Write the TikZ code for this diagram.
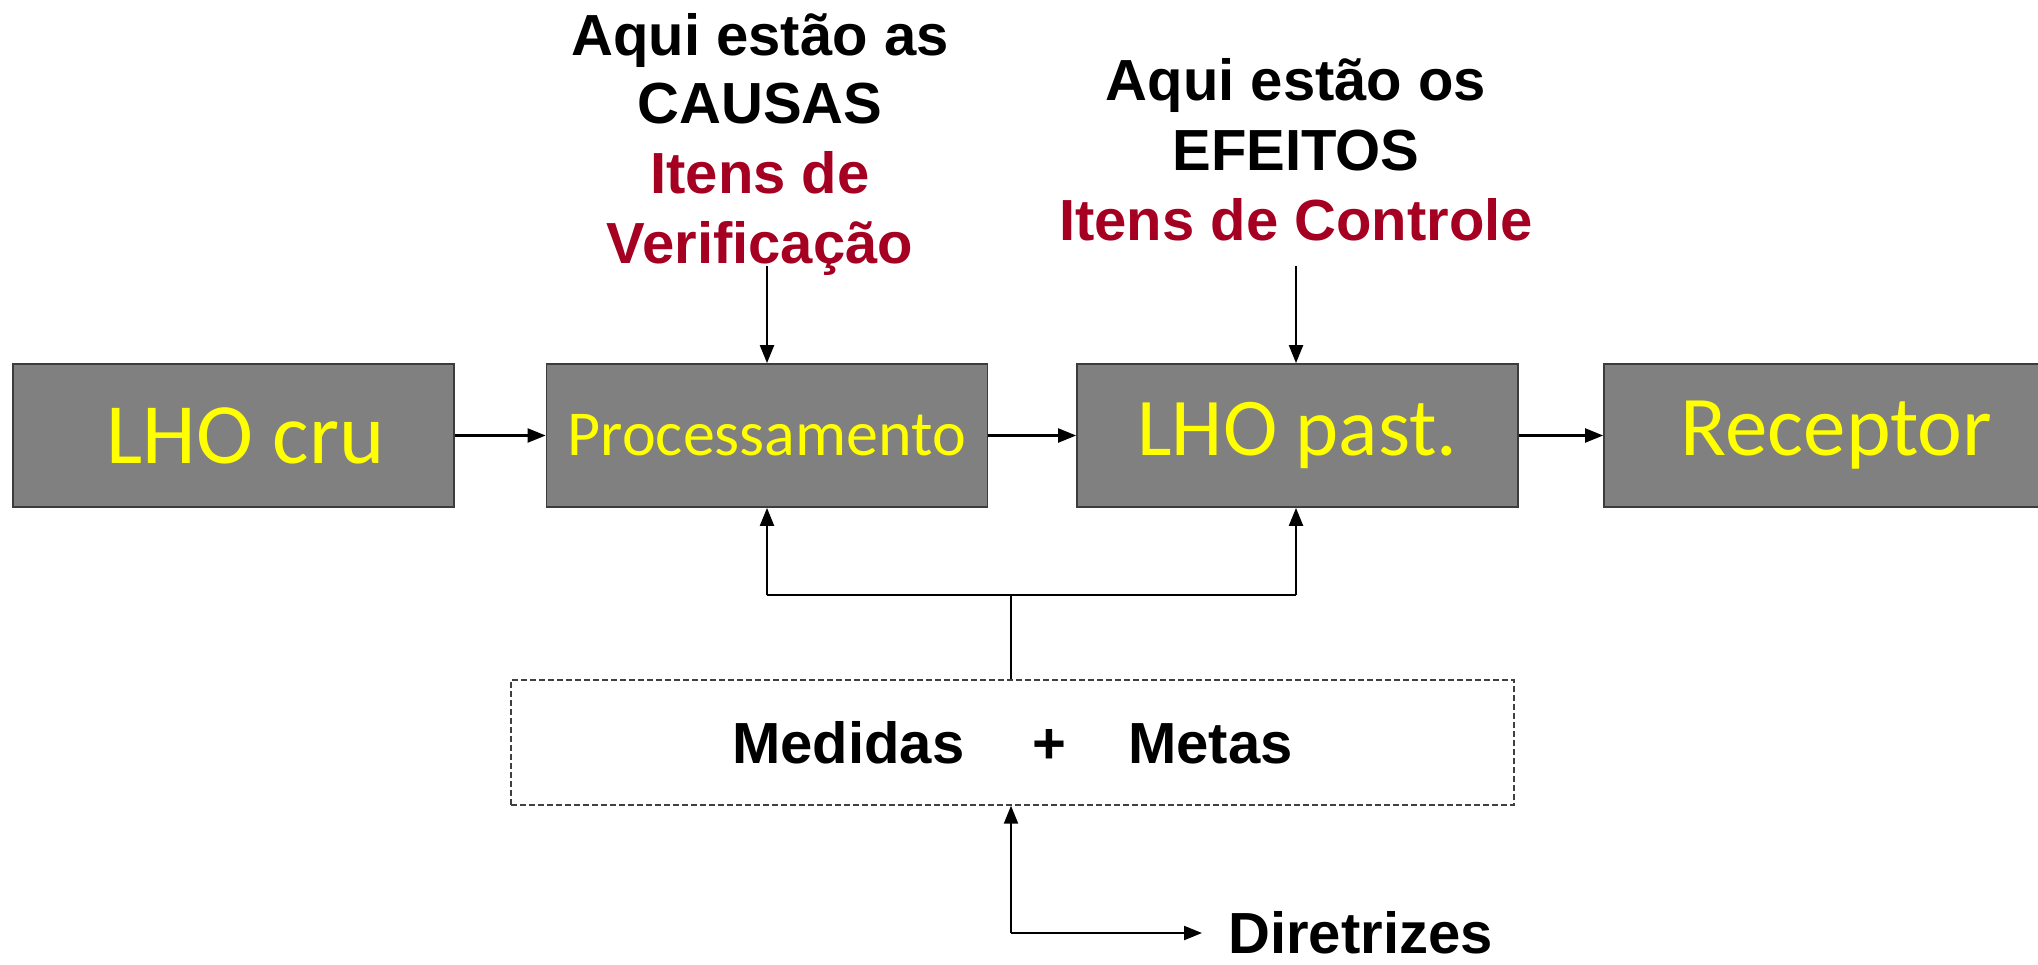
\documentclass[tikz,border=0pt]{standalone}
\usepackage{fontspec}
\setmainfont{Liberation Sans}
\newfontfamily\calib{Carlito}
\usetikzlibrary{arrows.meta}
\definecolor{boxgray}{RGB}{128,128,128}
\definecolor{boxedge}{RGB}{60,60,60}
\definecolor{txtyellow}{RGB}{255,255,0}
\definecolor{darkred}{RGB}{165,0,33}
\begin{document}
\begin{tikzpicture}[x=0.5pt,y=-0.5pt,
  blk/.style={draw=boxedge,fill=boxgray,line width=0.9pt,minimum width=220.5pt,minimum height=71.5pt,inner sep=0pt,text=txtyellow,font=\calib\fontsize{41}{41}\selectfont},
  arr/.style={line width=1.1pt,-{Triangle[length=9pt,width=7pt]}},
  ln/.style={line width=1.1pt},
  lbl/.style={font=\bfseries\fontsize{29}{35}\selectfont,inner sep=0pt,anchor=base},
  redlbl/.style={lbl,text=darkred},
  dashbox/.style={draw=black!75,line width=0.7pt,dash pattern=on 3pt off 1.5pt,minimum width=501.5pt,minimum height=62.5pt,inner sep=0pt,font=\bfseries\fontsize{29}{35}\selectfont}
]
\useasboundingbox (0,0) rectangle (2038,964);

% blocks
\node[blk,font=\calib\fontsize{43}{43}\selectfont] (cru) at (233.5,435.5) {\hspace{12pt}LHO cru};
\node[blk,font=\calib\fontsize{32}{32}\selectfont] (proc) at (767,435.5) {Processamento};
\node[blk] (past) at (1297.5,435.5) {LHO past.};
\node[blk,font=\calib\fontsize{42.5}{42.5}\selectfont] (rec) at (1824.5,435.5) {\hspace{12pt}Receptor};

% horizontal flow
\draw[arr] (cru) -- (proc);
\draw[arr] (proc) -- (past);
\draw[arr] (past) -- (rec);

% top labels left
\node[lbl] (l1) at (760,55) {Aqui estão as};
\node[lbl] (l2) at (760,123) {CAUSAS};
\node[redlbl] (l3) at (760,193) {Itens de};
\node[redlbl] (l4) at (760,263) {Verificação};
% top labels right
\node[lbl] (r1) at (1296,100) {Aqui estão os};
\node[lbl] (r2) at (1296,170) {EFEITOS};
\node[redlbl] (r3) at (1296,240) {Itens de Controle};

\coordinate (tl) at (767,266);
\coordinate (tr) at (1296,266);
\draw[arr] (tl) -- (proc.north);
\draw[arr] (tr) -- (past.north -| tr);

% measures box
\node[dashbox] (meas) at (1012.5,742.5) {Medidas\hspace{34pt}+\hspace{31pt}Metas};

\coordinate (jl) at (767,595);
\coordinate (jr) at (1296,595);
\coordinate (jm) at (1011,595);
\draw[ln] (jl) -- (jr);
\draw[ln] (meas.north -| jm) -- (jm);
\draw[arr] (jl) -- (proc.south);
\draw[arr] (jr) -- (past.south -| jr);

% diretrizes
\node[font=\bfseries\fontsize{29}{35}\selectfont,inner xsep=13pt,inner ysep=0pt,anchor=west] (dir) at (1202,933) {Diretrizes};
\coordinate (corner) at (1011,933);
\draw[arr] (corner) -- (meas.south -| corner);
\draw[arr] (corner) -- (dir.west);
\end{tikzpicture}
\end{document}
